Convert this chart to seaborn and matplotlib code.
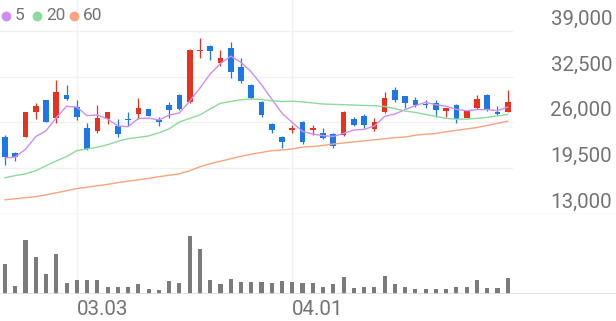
import matplotlib
matplotlib.use("Agg")
import matplotlib.pyplot as plt
from matplotlib.lines import Line2D
import numpy as np
import pandas as pd
import seaborn as sns

# ---------------- data ----------------
opens = [23950, 21650, 23950, 27500, 29100, 26600, 29900, 28150, 25150, 24700,
         26450, 25500, 26450, 27150, 27900, 26350, 28450, 29900, 28850, 36150,
         36900, 34400, 36550, 33900, 31300, 28950, 25750, 23950, 24900, 26100,
         24900, 24450, 24300, 24200, 26450, 26950, 25000, 27400, 30600, 29750,
         29100, 28600, 28700, 27600, 28450, 26600, 28000, 29900, 27400, 27500]
highs = [24200, 21750, 27500, 28700, 29150, 31950, 31300, 29200, 25850, 28500,
         27450, 26450, 27450, 29450, 27950, 26800, 28950, 30000, 36400, 37950,
         37000, 36300, 37400, 35200, 31400, 29000, 25850, 24100, 25550, 26200,
         25550, 25250, 24450, 27600, 26750, 27150, 26650, 30350, 31000, 29800,
         29650, 29100, 29200, 28100, 28600, 27600, 29900, 30000, 28350, 30600]
lows = [19950, 20550, 23900, 26450, 26050, 25950, 29100, 26250, 22100, 24450,
        25750, 23950, 25400, 26500, 26850, 25400, 26600, 27800, 28750, 35200,
        34900, 34050, 32350, 31550, 29350, 26800, 24450, 22400, 24450, 22900,
        24200, 23650, 22300, 24100, 25400, 25150, 24800, 27300, 28950, 28000,
        28150, 28000, 26750, 26800, 25850, 26550, 27900, 27650, 27050, 27400]
closes = [21100, 21100, 27450, 28250, 26100, 30300, 29300, 26800, 22200, 26600,
          27400, 24350, 26300, 28000, 26900, 26100, 27750, 27900, 36300, 36300,
          36150, 35200, 33150, 31900, 29450, 27050, 24900, 23150, 25250, 23150,
          25150, 23750, 22550, 27450, 25550, 25650, 26100, 29450, 29100, 28700,
          28500, 28450, 27750, 28000, 26450, 27550, 29300, 27750, 27200, 28950]
ma5 = [20900, 21050, 22150, 23950, 24800, 26640, 28280, 28150, 26940, 27040,
       26460, 25470, 25370, 26530, 26590, 26330, 27010, 27330, 28990, 30870,
       32880, 34370, 35420, 34540, 33170, 31350, 29290, 27290, 25960, 24700,
       24320, 24090, 23970, 24410, 24890, 24990, 25460, 26840, 27170, 27800,
       28370, 28840, 28500, 28280, 27830, 27640, 27810, 27810, 27650, 28150]
ma20 = [18100, 18400, 18650, 19100, 19800, 20500, 21100, 21950, 22200, 22450,
        22800, 23300, 23650, 23850, 24050, 24500, 25050, 26050, 26550, 27050,
        27900, 28700, 28950, 29200, 29300, 29250, 29050, 28950, 29000, 28900,
        28750, 28600, 28550, 28500, 28450, 28400, 28350, 28250, 27950, 27600,
        27400, 27100, 26850, 26550, 26450, 26450, 26550, 26700, 26900, 27100]
ma60 = [14950, 15100, 15250, 15400, 15650, 15950, 16250, 16550, 16750, 16950,
        17150, 17400, 17600, 17800, 18000, 18250, 18450, 18650, 19100, 19650,
        20100, 20450, 20800, 21150, 21450, 21700, 21950, 22050, 22200, 22450,
        22550, 22700, 22900, 23050, 23200, 23350, 23500, 23650, 23800, 23900,
        24150, 24300, 24400, 24650, 24850, 25050, 25250, 25550, 25850, 26150]
volume = [297, 80, 540, 373, 200, 400, 107, 140, 140, 140,
          73, 73, 73, 100, 47, 40, 133, 113, 583, 447,
          140, 100, 147, 120, 123, 123, 107, 130, 123, 107,
          107, 73, 100, 167, 57, 73, 73, 180, 100, 73,
          50, 50, 50, 50, 73, 73, 140, 57, 57, 157]
dates = pd.bdate_range("2025-02-20", periods=len(closes)).strftime("%m.%d").tolist()
shown_dates = ["03.03", "04.01"]
price_ticks = [13000, 19500, 26000, 32500, 39000]
ma_labels = ["5", "20", "60"]

# ---------------- style ----------------
UP, DOWN = "#e8321f", "#1c78e6"
MA_COLORS = ["#cf8df2", "#8ddb9c", "#f9a47c"]
TXT = "#737373"
GRID = "#f1f1f1"
FONT = "Roboto"

W, H = 616, 321
fig = plt.figure(figsize=(W / 100, H / 100), dpi=100)
fig.patch.set_facecolor("white")

def frac(px_top, px_bottom):
    return (H - px_bottom) / H, (px_bottom - px_top) / H

b, h = frac(0, 213.5)
ax = fig.add_axes([0, b, 1, h])
b2, h2 = frac(213.5, 294)
axv = fig.add_axes([0, b2, 1, h2], sharex=ax)

idx = np.arange(len(closes))
o = np.array(opens); c = np.array(closes)
hi = np.array(highs); lo = np.array(lows)
cols = np.where(c >= o, UP, DOWN)

# grid
for v in price_ticks[1:]:
    ax.axhline(v, xmin=0, xmax=512 / W, color=GRID, lw=1, zorder=0)
ax.axhline(price_ticks[0], color="#e4e4e4", lw=1, zorder=0)
dpos = [dates.index(d) for d in shown_dates]
for p in dpos:
    ax.axvline(p, color=GRID, lw=1, zorder=0)
    axv.axvline(p, color=GRID, lw=1, zorder=0)

# candles
ax.vlines(idx, lo, hi, colors=cols, lw=0.9, zorder=2)
body = np.maximum(np.abs(c - o), 120)
ax.bar(idx, body, bottom=np.minimum(o, c), width=0.55, color=cols, zorder=2,
       linewidth=0)

# moving averages
df = pd.DataFrame({"i": idx, "ma5": ma5, "ma20": ma20, "ma60": ma60})
for col, colr in zip(["ma5", "ma20", "ma60"], MA_COLORS):
    sns.lineplot(data=df, x="i", y=col, ax=ax, color=colr, lw=1.0, zorder=3)

scale = 182.5 / 26000
ax.set_ylim(13000, 39000 + 31 / scale)
ax.set_xlim(-5 / 10.26, (W - 5) / 10.26)
ax.axis("off")

for v in price_ticks:
    ax.annotate(f"{v:,}", xy=(1, v), xycoords=("axes fraction", "data"),
                xytext=(-4, 6), textcoords="offset pixels", ha="right",
                va="baseline", fontsize=14.8, color=TXT, family=FONT)

# volume
vdf = pd.DataFrame({"i": idx, "v": volume})
sns.barplot(data=vdf, x="i", y="v", ax=axv, color="#7b7b7b", saturation=1,
            width=0.4, native_scale=True, zorder=2)
axv.set_ylim(0, max(volume) * 80.5 / 58.3)
axv.set_xlim(-5 / 10.26, (W - 5) / 10.26)
axv.axhline(0, color="#dedede", lw=1.2, zorder=3)
for s in axv.spines.values():
    s.set_visible(False)
axv.set_yticks([])
axv.set_xlabel(""); axv.set_ylabel("")
axv.set_xticks(dpos)
axv.set_xticklabels(shown_dates, ha="left", fontsize=14.8, color=TXT, family=FONT)
axv.tick_params(axis="x", length=0, pad=4)
axv.set_facecolor("none")
ax.set_facecolor("none")

# legend
xs_dot = [5.7, 36.7, 74]
xs_txt = [15, 46, 83]
for xd, xt, lab, colr in zip(xs_dot, xs_txt, ma_labels, MA_COLORS):
    fig.add_artist(Line2D([xd / W], [1 - 15.5 / H], marker="o", ms=6,
                          color=colr, mec=colr, transform=fig.transFigure))
    fig.text(xt / W, 1 - 16 / H, lab, fontsize=12.4, color=TXT, family=FONT,
             ha="left", va="center")

fig.savefig("out.png", dpi=100)
